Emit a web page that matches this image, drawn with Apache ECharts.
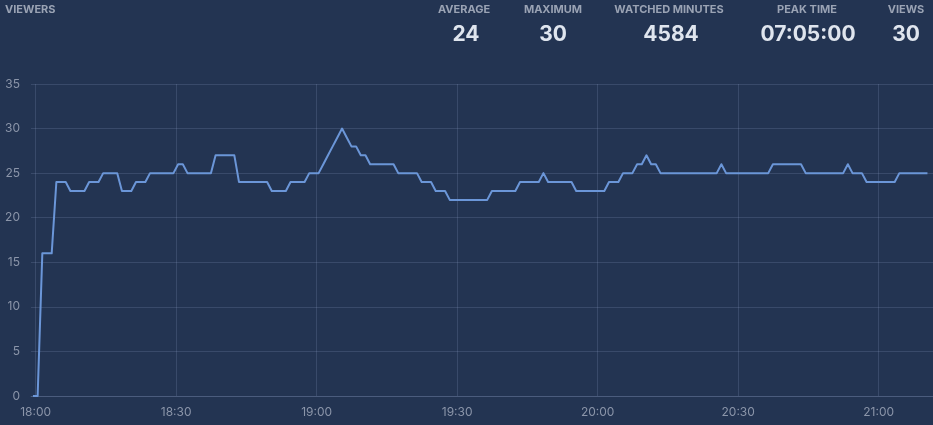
<!DOCTYPE html>
<html>
<head>
<meta charset="utf-8">
<script src="https://cdn.jsdelivr.net/npm/echarts@6/dist/echarts.min.js"></script>
<style>
  html, body { margin: 0; padding: 0; background: #233452; }
  #chart { width: 933px; height: 425px; }
</style>
</head>
<body>
<div id="chart"></div>
<script>
// ---- data ----
var startTime = '17:59:25';           // time of first sample, one sample per minute
var viewers = [
  0, 0, 16, 16, 16, 24, 24, 24, 23, 23, 23, 23, 24, 24, 24, 25, 25, 25, 25, 23,
  23, 23, 24, 24, 24, 25, 25, 25, 25, 25, 25, 26, 26, 25, 25, 25, 25, 25, 25, 27,
  27, 27, 27, 27, 24, 24, 24, 24, 24, 24, 24, 23, 23, 23, 23, 24, 24, 24, 24, 25,
  25, 25, 26, 27, 28, 29, 30, 29, 28, 28, 27, 27, 26, 26, 26, 26, 26, 26, 25, 25,
  25, 25, 25, 24, 24, 24, 23, 23, 23, 22, 22, 22, 22, 22, 22, 22, 22, 22, 23, 23,
  23, 23, 23, 23, 24, 24, 24, 24, 24, 25, 24, 24, 24, 24, 24, 24, 23, 23, 23, 23,
  23, 23, 23, 24, 24, 24, 25, 25, 25, 26, 26, 27, 26, 26, 25, 25, 25, 25, 25, 25,
  25, 25, 25, 25, 25, 25, 25, 26, 25, 25, 25, 25, 25, 25, 25, 25, 25, 25, 26, 26,
  26, 26, 26, 26, 26, 25, 25, 25, 25, 25, 25, 25, 25, 25, 26, 25, 25, 25, 24, 24,
  24, 24, 24, 24, 24, 25, 25, 25, 25, 25, 25, 25
];
var xTickLabels = ['18:00', '18:30', '19:00', '19:30', '20:00', '20:30', '21:00'];
var yTicks = [0, 5, 10, 15, 20, 25, 30, 35];
var statLabels = ['AVERAGE', 'MAXIMUM', 'WATCHED MINUTES', 'PEAK TIME', 'VIEWS'];
var statValues = ['24', '30', '4584', '07:05:00', '30'];
var title = 'VIEWERS';

// ---- helpers ----
function toMin(hms) { // minutes relative to 18:00
  var p = hms.split(':').map(Number);
  return (p[0] - 18) * 60 + p[1] + (p[2] || 0) / 60;
}
function fmt(m) {
  var t = Math.round(m) + 18 * 60;
  var h = Math.floor(t / 60), mm = t % 60;
  return (h < 10 ? '0' : '') + h + ':' + (mm < 10 ? '0' : '') + mm;
}
var t0 = toMin(startTime);
var seriesData = viewers.map(function (v, i) { return [t0 + i, v]; });
var tickVals = xTickLabels.map(toMin);

var labelX = [464, 553, 669, 807, 906];
var valueX = [466, 553, 671, 808, 906];

var graphics = [{
  type: 'text', left: 5, top: 4,
  style: { text: title, fill: '#9aa3b4', font: 'bold 11px Inter' }
}];
statLabels.forEach(function (s, i) {
  graphics.push({
    type: 'text', x: labelX[i], y: 10,
    style: { text: s, fill: '#9aa3b4', font: 'bold 11px Inter', align: 'center', verticalAlign: 'middle' }
  });
  graphics.push({
    type: 'text', x: valueX[i], y: 35,
    style: { text: statValues[i], fill: '#dfe5ee', font: 'bold 21px Inter', align: 'center', verticalAlign: 'middle' }
  });
});

var gridColor = 'rgba(160,180,215,0.18)';
var chart = echarts.init(document.getElementById('chart'), null, { renderer: 'canvas' });
chart.setOption({
  backgroundColor: '#233452',
  animation: false,
  textStyle: { fontFamily: 'Inter' },
  graphic: graphics,
  grid: { left: 31, right: 0, top: 84, bottom: 29 },
  xAxis: {
    type: 'value',
    min: -1,
    max: 191.6,
    axisLine: { show: true, lineStyle: { color: gridColor } },
    axisTick: { show: false, customValues: tickVals },
    axisLabel: { customValues: tickVals, color: '#8b95a9', fontSize: 12, margin: 10, formatter: function (v) { return fmt(v); } },
    splitLine: { show: true, customValues: tickVals, lineStyle: { color: gridColor } }
  },
  yAxis: {
    type: 'value',
    min: 0, max: 35, interval: 5,
    axisLine: { show: false },
    axisTick: { show: false },
    axisLabel: { color: '#8b95a9', fontSize: 12, margin: 11 },
    splitLine: { lineStyle: { color: gridColor } }
  },
  series: [{
    type: 'line',
    data: seriesData,
    showSymbol: false,
    symbol: 'none',
    lineStyle: { color: '#6b96d8', width: 2, join: 'round' },
    clip: false
  }]
});
</script>
</body>
</html>
